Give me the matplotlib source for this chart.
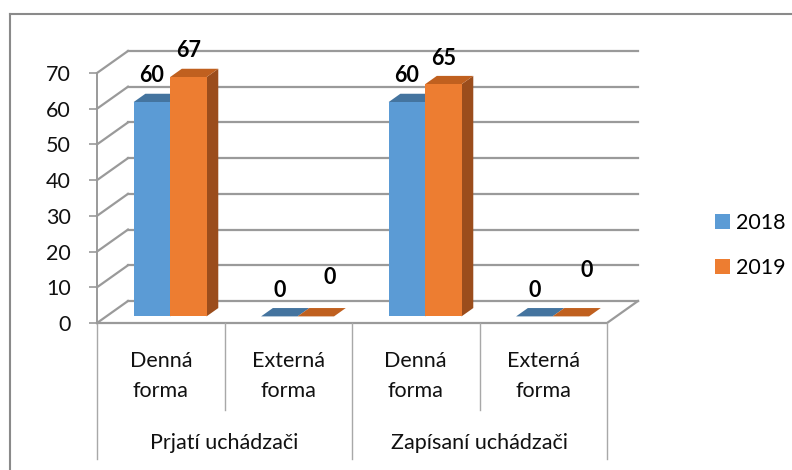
import matplotlib.pyplot as plt
from matplotlib.patches import Rectangle, Polygon, Patch
from matplotlib.lines import Line2D

# data
groups = ["Prjatí uchádzači", "Zapísaní uchádzači"]
forms = ["Denná\nforma", "Externá\nforma"]
series = ["2018", "2019"]
vals_2018 = [60, 0, 60, 0]
vals_2019 = [67, 0, 65, 0]
yticks = [0, 10, 20, 30, 40, 50, 60, 70]

plt.rcParams['font.family'] = ['Lato', 'DejaVu Sans']
FS = 15.5
GRID = '#9a9a9a'
LINE = '#a8a8a8'

front = ['#5B9BD5', '#ED7D31']
top = ['#44749F', '#C0601F']
side = ['#3A6690', '#9B4D1C']

fig = plt.figure(figsize=(7.92, 4.70), dpi=100)
# axes = front plane of the 3D box
ax = fig.add_axes([97 / 792, 1 - 323 / 470, 510 / 792, 250 / 470])
ax.set_xlim(0, 4)
ax.set_ylim(0, 70)
ax.patch.set_alpha(0)

# depth offset of the back wall (data units)
ddx, ddy = 0.243, 6.16

# back wall gridlines + side wall diagonals
for v in yticks:
    ax.plot([ddx, 4 + ddx], [v + ddy, v + ddy], color=GRID, lw=1.6, clip_on=False, zorder=1)
    ax.plot([0, ddx], [v, v + ddy], color=GRID, lw=1.6, clip_on=False, zorder=1)
# floor outline
ax.plot([0, 4, 4 + ddx], [0, 0, ddy], color=GRID, lw=1.6, clip_on=False, zorder=1)

# 3D bars
w, f0, fd = 0.286, 0.3, 0.38
nudges = {(1, 1): (14, 13), (1, 3): (16, 20)}
for s, vals in enumerate([vals_2018, vals_2019]):
    for i, v in enumerate(vals):
        x = i + 0.5 - w + s * w + f0 * ddx
        y0 = f0 * ddy
        bx, by = fd * ddx, fd * ddy
        ax.add_patch(Polygon([(x + w, y0), (x + w + bx, y0 + by), (x + w + bx, y0 + v + by), (x + w, y0 + v)],
                             closed=True, fc=side[s], ec='none', clip_on=False, zorder=3 + s))
        ax.add_patch(Polygon([(x, y0 + v), (x + w, y0 + v), (x + w + bx, y0 + v + by), (x + bx, y0 + v + by)],
                             closed=True, fc=top[s], ec='none', clip_on=False, zorder=3 + s))
        ax.add_patch(Rectangle((x, y0), w, v, fc=front[s], ec='none', clip_on=False, zorder=3 + s))
        nx, ny = nudges.get((s, i), (0, 0))
        ax.annotate(str(v), (x + w / 2, y0 + v + by + 5.0), xytext=(nx * 0.72, ny * 0.72),
                    textcoords='offset points', ha='center', va='center',
                    fontsize=FS, fontweight='bold', annotation_clip=False, zorder=6)

# y axis
ax.set_yticks(yticks)
ax.set_xticks([])
ax.tick_params(axis='y', length=5.8, width=1.2, color=GRID, pad=13, labelsize=FS, labelcolor='#111111')
for k in ['top', 'right', 'bottom']:
    ax.spines[k].set_visible(False)
ax.spines['left'].set_color(GRID)
ax.spines['left'].set_linewidth(1.4)

# category table below the floor
for xb, yb in [(0, -38.1), (1, -24.4), (2, -38.1), (3, -24.4), (4, -38.1)]:
    ax.plot([xb, xb], [0, yb], color=LINE, lw=1.0, clip_on=False)
for i in range(4):
    ax.text(i + 0.5, -14.8, forms[i % 2], ha='center', va='center', fontsize=FS,
            linespacing=1.6, color='#111111')
for g, name in enumerate(groups):
    ax.text(2 * g + 1, -33.6, name, ha='center', va='center', fontsize=FS, color='#111111')

# chart border (only top and left visible)
fig.add_artist(Line2D([9.5 / 792, 9.5 / 792], [0, 1 - 13.5 / 470], transform=fig.transFigure,
                      color='#8a8a8a', lw=1.5))
fig.add_artist(Line2D([9.5 / 792, 1], [1 - 13.5 / 470, 1 - 13.5 / 470], transform=fig.transFigure,
                      color='#8a8a8a', lw=1.5))

handles = [Patch(fc=front[0], ec='none'), Patch(fc=front[1], ec='none')]
fig.legend(handles, series, loc='center left', bbox_to_anchor=(704 / 792, 1 - 245.5 / 470),
           frameon=False, fontsize=FS, borderpad=0, handlelength=0.7, handleheight=0.7,
           handletextpad=0.3, labelspacing=1.15)

fig.savefig('out.png', dpi=100)
